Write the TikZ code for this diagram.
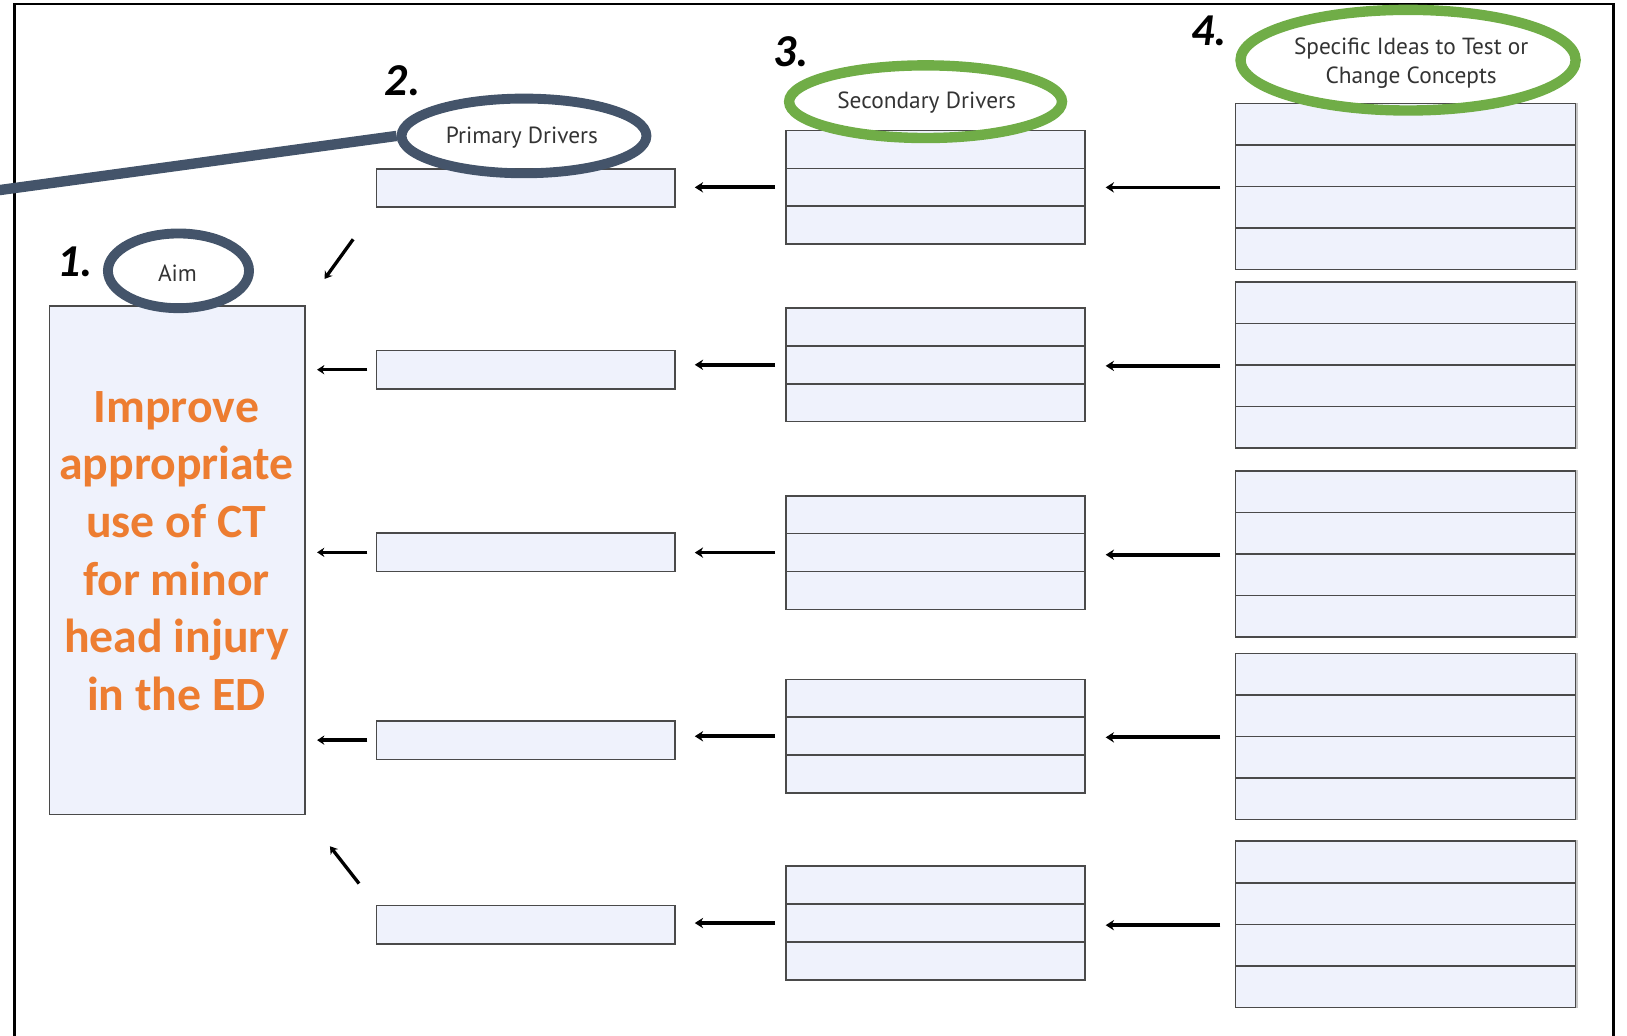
\documentclass[tikz,border=0pt]{standalone}
\usepackage{fontspec}
\setmainfont{Carlito}
\newfontfamily\labelfont{PT Sans}
\usetikzlibrary{shapes.geometric,arrows.meta}
\definecolor{slate}{HTML}{44546A}
\definecolor{leafgreen}{HTML}{70AD47}
\definecolor{aimorange}{HTML}{ED7D31}
\definecolor{boxfill}{HTML}{EFF2FC}
\definecolor{boxline}{HTML}{4A4A4A}

\begin{document}
\begin{tikzpicture}[x=1pt,y=-1pt,
  row/.style={draw=boxline, line width=1.6pt, fill=boxfill, rectangle, inner sep=0pt, anchor=north west},
  ring/.style={ellipse, draw, line width=9.5pt, inner sep=0pt},
  headtext/.style={font=\labelfont\fontsize{22.5}{28}\selectfont, text=black!80, align=center, inner sep=0pt},
  arr/.style={-{Stealth[length=8pt,width=10pt]}, line width=3.6pt},
  thinarr/.style={-{Stealth[length=7pt,width=9pt]}, line width=3.2pt},
  num/.style={font=\bfseries\itshape\fontsize{44}{44}\selectfont, inner sep=0pt}
]
\useasboundingbox (0,0) rectangle (1568,998);
\clip (0,0) rectangle (1568,998);

% outer frame (open at the bottom)
\draw[line width=2pt] (14,998) -- (14,4) -- (1555,4) -- (1555,998);

% aim box
\node[row, minimum width=246, minimum height=490] (aim) at (47,294) {};
\node[text=aimorange, font=\bfseries\fontsize{46}{55.5}\selectfont, align=center, inner sep=0pt]
  (aimtext) at (170,531) {Improve\\appropriate\\use of CT\\for minor\\head injury\\in the ED};

% primary drivers
\foreach \i/\y in {1/162,2/337,3/513,4/694,5/872}
  \node[row, minimum width=288, minimum height=37] (p\i) at (362,\y) {};

% secondary drivers: five groups of three rows
\foreach \i/\y in {1/125,2/296,3/477,4/654,5/834}
  \foreach \r in {0,1,2}
    \node[row, minimum width=288, minimum height=36.5] (s\i-\r) at (757,{\y+36.5*\r}) {};

% change ideas: five groups of four rows
\foreach \i/\y in {1/99,2/271,3/453,4/629,5/810} {
  \foreach \r in {0,1,2,3}
    \node[row, minimum width=328, minimum height=40] (c\i-\r) at (1190,{\y+40*\r}) {};
  \draw[gray!45, line width=1.6pt] (c\i-0.north east) -- (c\i-3.south east);
}

% arrows between columns
\foreach \i in {1,...,5} {
  \draw[arr, shorten <=14pt, shorten >=19pt] (c\i-1.south west) -- (c\i-1.south west -| s\i-1.east);
  \draw[arr, shorten <=10pt, shorten >=18pt] (s\i-1.west) -- (s\i-1.west -| p\i.east);
}
\foreach \i in {2,3,4}
  \draw[thinarr, shorten <=8pt, shorten >=11pt] (p\i.west) -- (p\i.west -| aim.east);
\draw[thinarr, shorten <=37pt, shorten >=31pt] (p1.south west) -- (aim.north east);
\draw[thinarr, shorten <=26pt, shorten >=38pt] (p5.north west) -- (aim.south east);

% column headings
\node[ring, draw=slate, minimum width=136, minimum height=72] (aimlabel) at (172,261) {};
\node[headtext] (aimtext) at (171,263) {Aim};
\node[ring, draw=slate, minimum width=236, minimum height=72] (pdlabel) at (505,131) {};
\node[headtext] (pdtext) at (503,133) {Primary Drivers};
\coordinate (pdtail) at (-10,184.5);
\draw[slate, line width=10pt] (pdlabel.west) -- (pdtail);
\node[ring, draw=leafgreen, line width=10pt, minimum width=263, minimum height=70] (sdlabel) at (892,98) {};
\node[headtext] (sdtext) at (893,99) {Secondary Drivers};
\node[ring, draw=leafgreen, line width=10pt, minimum width=323, minimum height=97] (cclabel) at (1357,58) {};
\node[headtext] (cctext) at (1360,61) {Specific Ideas to Test or\\Change Concepts};

% step numbers
\node[num] (n1) at (72,252) {1.};
\node[num] (n2) at (388,78) {2.};
\node[num] (n3) at (762,50) {3.};
\node[num] (n4) at (1165,30) {4.};
\end{tikzpicture}
\end{document}
